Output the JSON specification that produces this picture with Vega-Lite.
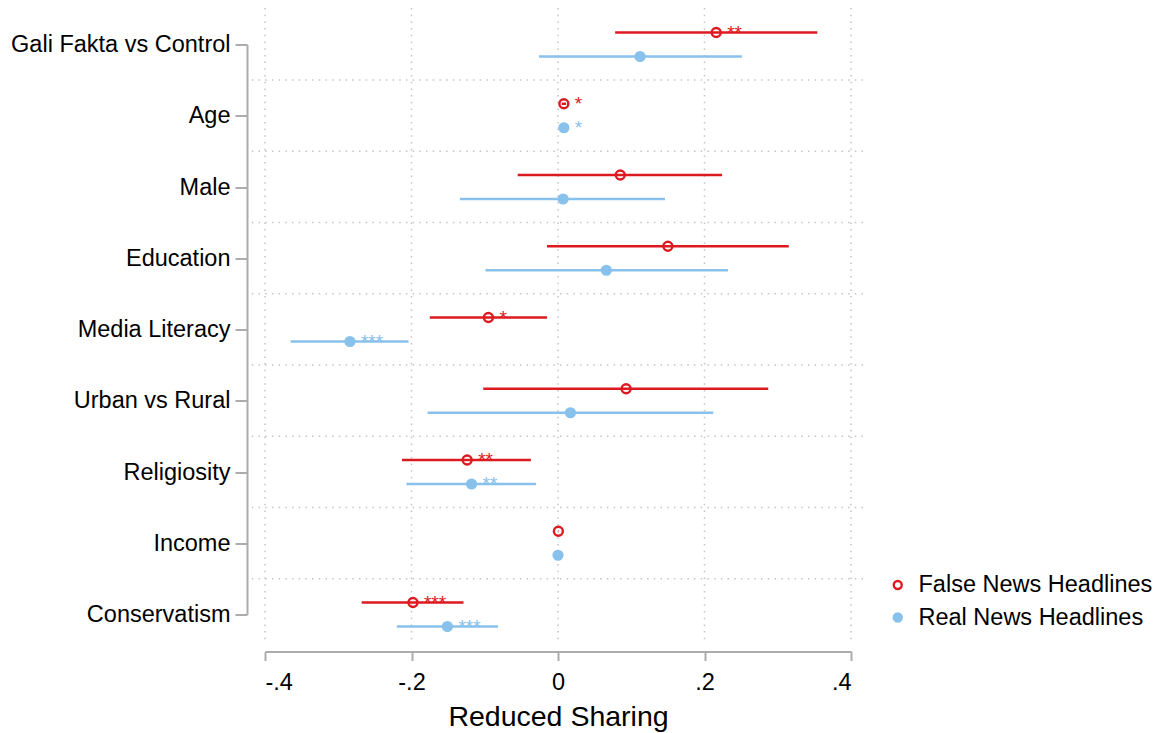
{
  "$schema": "https://vega.github.io/schema/vega-lite/v6.json",
  "width": 586,
  "height": 570,
  "autosize": "none",
  "padding": {"left": 265, "top": 44.5, "right": 309, "bottom": 118.5},
  "config": {
    "view": {"stroke": null},
    "font": "Liberation Sans",
    "text": {"font": "Liberation Sans"}
  },
  "datasets": {
    "coef": [
      {"var": "Gali Fakta vs Control", "series": "False News Headlines", "est": 0.216, "lo": 0.078, "hi": 0.354, "stars": "**"},
      {"var": "Gali Fakta vs Control", "series": "Real News Headlines", "est": 0.112, "lo": -0.026, "hi": 0.251, "stars": ""},
      {"var": "Age", "series": "False News Headlines", "est": 0.008, "lo": 0.005, "hi": 0.011, "stars": "*"},
      {"var": "Age", "series": "Real News Headlines", "est": 0.008, "lo": 0.005, "hi": 0.011, "stars": "*"},
      {"var": "Male", "series": "False News Headlines", "est": 0.085, "lo": -0.055, "hi": 0.224, "stars": ""},
      {"var": "Male", "series": "Real News Headlines", "est": 0.007, "lo": -0.134, "hi": 0.146, "stars": ""},
      {"var": "Education", "series": "False News Headlines", "est": 0.150, "lo": -0.015, "hi": 0.315, "stars": ""},
      {"var": "Education", "series": "Real News Headlines", "est": 0.066, "lo": -0.099, "hi": 0.232, "stars": ""},
      {"var": "Media Literacy", "series": "False News Headlines", "est": -0.095, "lo": -0.175, "hi": -0.015, "stars": "*"},
      {"var": "Media Literacy", "series": "Real News Headlines", "est": -0.284, "lo": -0.365, "hi": -0.204, "stars": "***"},
      {"var": "Urban vs Rural", "series": "False News Headlines", "est": 0.093, "lo": -0.102, "hi": 0.287, "stars": ""},
      {"var": "Urban vs Rural", "series": "Real News Headlines", "est": 0.017, "lo": -0.178, "hi": 0.212, "stars": ""},
      {"var": "Religiosity", "series": "False News Headlines", "est": -0.124, "lo": -0.213, "hi": -0.037, "stars": "**"},
      {"var": "Religiosity", "series": "Real News Headlines", "est": -0.118, "lo": -0.207, "hi": -0.030, "stars": "**"},
      {"var": "Income", "series": "False News Headlines", "est": 0.0005, "lo": 0.0003, "hi": 0.0007, "stars": ""},
      {"var": "Income", "series": "Real News Headlines", "est": 0.0, "lo": -0.0002, "hi": 0.0002, "stars": ""},
      {"var": "Conservatism", "series": "False News Headlines", "est": -0.198, "lo": -0.268, "hi": -0.129, "stars": "***"},
      {"var": "Conservatism", "series": "Real News Headlines", "est": -0.151, "lo": -0.220, "hi": -0.082, "stars": "***"}
    ],
    "gridx": [{"v": -0.4}, {"v": -0.2}, {"v": 0}, {"v": 0.2}, {"v": 0.4}]
  },
  "layer": [
    {
      "data": {"name": "gridx"},
      "mark": {"type": "rule", "color": "#c4c4c4", "strokeWidth": 1.5, "strokeDash": [1.5, 5.2], "yOffset": -36.5, "y2Offset": 27},
      "encoding": {
        "x": {"field": "v", "type": "quantitative"},
        "y": {"datum": "Gali Fakta vs Control", "type": "nominal"},
        "y2": {"datum": "Conservatism"}
      }
    },
    {
      "data": {"name": "coef"},
      "transform": [{"filter": "datum.series == 'False News Headlines' && datum.var != 'Conservatism'"}],
      "mark": {"type": "rule", "color": "#c4c4c4", "strokeWidth": 1.5, "strokeDash": [1.5, 5.2], "yOffset": 35.6},
      "encoding": {
        "x": {"datum": -0.418, "type": "quantitative"},
        "x2": {"datum": 0.4235},
        "y": {"field": "var", "type": "nominal"}
      }
    },
    {
      "data": {"name": "coef"},
      "transform": [{"filter": "datum.series == 'False News Headlines'"}],
      "mark": {"type": "rule", "color": "#dc1a20", "strokeWidth": 2.5, "yOffset": -12},
      "encoding": {
        "x": {"field": "lo", "type": "quantitative"},
        "x2": {"field": "hi"},
        "y": {"field": "var", "type": "nominal"}
      }
    },
    {
      "data": {"name": "coef"},
      "transform": [{"filter": "datum.series == 'Real News Headlines'"}],
      "mark": {"type": "rule", "color": "#88c1eb", "strokeWidth": 2.5, "yOffset": 12},
      "encoding": {
        "x": {"field": "lo", "type": "quantitative"},
        "x2": {"field": "hi"},
        "y": {"field": "var", "type": "nominal"}
      }
    },
    {
      "data": {"name": "coef"},
      "transform": [{"filter": "datum.series == 'False News Headlines'"}],
      "mark": {"type": "point", "shape": "circle", "size": 80, "strokeWidth": 2.4, "opacity": 1, "yOffset": -12},
      "encoding": {
        "x": {"field": "est", "type": "quantitative"},
        "y": {"field": "var", "type": "nominal"},
        "stroke": {"field": "series", "type": "nominal", "scale": {"domain": ["False News Headlines", "Real News Headlines"], "range": ["#dc1a20", "#88c1eb"]},
          "legend": {"title": null, "orient": "none", "legendX": 621, "legendY": 528.75, "padding": 0, "symbolType": "circle", "symbolSize": 64, "symbolStrokeWidth": 2.4, "labelFontSize": 23.5, "labelColor": "#000000", "labelFont": "Liberation Sans", "labelOffset": 9, "labelLimit": 0, "rowPadding": 7.5}},
        "fill": {"field": "series", "type": "nominal", "scale": {"domain": ["False News Headlines", "Real News Headlines"], "range": ["transparent", "#88c1eb"]},
          "legend": {"title": null, "orient": "none", "legendX": 621, "legendY": 528.75, "padding": 0, "symbolType": "circle", "symbolSize": 64, "symbolStrokeWidth": 2.4, "labelFontSize": 23.5, "labelColor": "#000000", "labelFont": "Liberation Sans", "labelOffset": 9, "labelLimit": 0, "rowPadding": 7.5}}
      }
    },
    {
      "data": {"name": "coef"},
      "transform": [{"filter": "datum.series == 'Real News Headlines'"}],
      "mark": {"type": "point", "shape": "circle", "size": 85, "strokeWidth": 2, "opacity": 1, "yOffset": 12},
      "encoding": {
        "x": {"field": "est", "type": "quantitative"},
        "y": {"field": "var", "type": "nominal"},
        "stroke": {"field": "series", "type": "nominal"},
        "fill": {"field": "series", "type": "nominal"}
      }
    },
    {
      "data": {"name": "coef"},
      "transform": [{"filter": "datum.series == 'False News Headlines'"}],
      "mark": {"type": "text", "align": "left", "baseline": "middle", "dx": 11, "fontSize": 19, "color": "#dc1a20", "yOffset": -12},
      "encoding": {
        "x": {"field": "est", "type": "quantitative"},
        "y": {"field": "var", "type": "nominal"},
        "text": {"field": "stars"}
      }
    },
    {
      "data": {"name": "coef"},
      "transform": [{"filter": "datum.series == 'Real News Headlines'"}],
      "mark": {"type": "text", "align": "left", "baseline": "middle", "dx": 11, "fontSize": 19, "color": "#88c1eb", "yOffset": 12},
      "encoding": {
        "x": {"field": "est", "type": "quantitative"},
        "y": {"field": "var", "type": "nominal"},
        "text": {"field": "stars"}
      }
    }
  ],
  "encoding": {
    "x": {
      "type": "quantitative",
      "scale": {"domain": [-0.4, 0.4], "nice": false, "zero": false},
      "axis": {
        "values": [-0.4, -0.2, 0, 0.2, 0.4],
        "labelExpr": "datum.value == 0 ? '0' : (datum.value < 0 ? '-' : '') + replace(format(abs(datum.value), '.1f'), '0.', '.')",
        "title": "Reduced Sharing",
        "titleFontSize": 28.5,
        "titleFontWeight": "normal",
        "titleColor": "#000000",
        "titlePadding": 8,
        "labelFontSize": 23.5,
        "labelColor": "#000000",
        "labelPadding": 10,
        "tickSize": 9,
        "tickWidth": 2,
        "tickColor": "#acacac",
        "domainColor": "#acacac",
        "domainWidth": 2,
        "grid": false,
        "offset": 37
      }
    },
    "y": {
      "type": "nominal",
      "scale": {"type": "point", "padding": 0, "domain": ["Gali Fakta vs Control", "Age", "Male", "Education", "Media Literacy", "Urban vs Rural", "Religiosity", "Income", "Conservatism"]},
      "axis": {
        "title": null,
        "labelFontSize": 23.5,
        "labelColor": "#000000",
        "labelPadding": 5,
        "labelLimit": 0,
        "tickSize": 12,
        "tickWidth": 2,
        "tickColor": "#acacac",
        "domainColor": "#acacac",
        "domainWidth": 2,
        "grid": false,
        "offset": 18
      }
    }
  }
}
